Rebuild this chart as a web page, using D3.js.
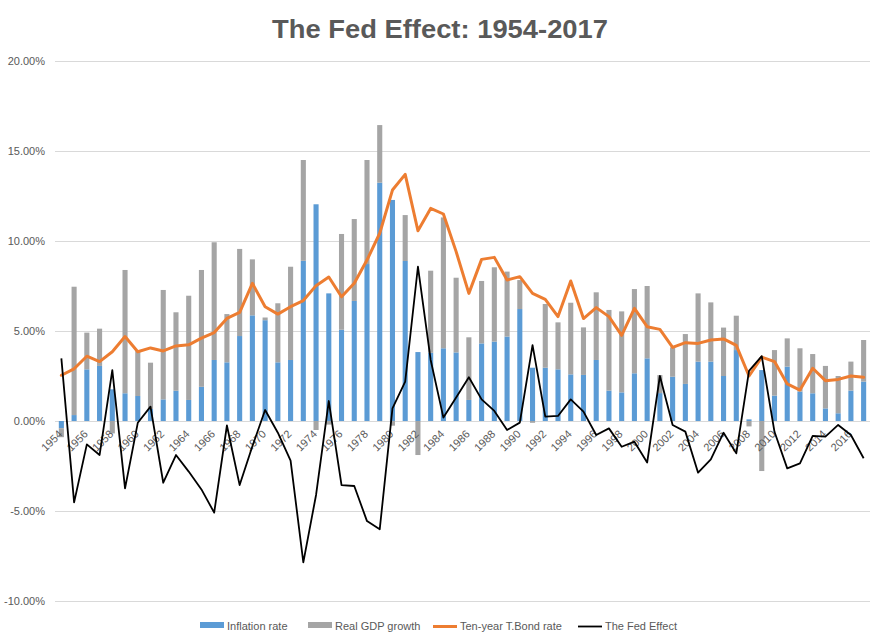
<!DOCTYPE html>
<html><head><meta charset="utf-8">
<script src="https://cdn.jsdelivr.net/npm/d3@7"></script>
<style>body{margin:0;background:#fff}svg{display:block}</style>
</head><body>
<svg id="c" width="879" height="639"></svg>
<script>
const years = d3.range(1954, 2018);
const inflation = [-0.4,0.33,2.87,3.06,1.76,1.54,1.39,0.67,1.2,1.68,1.17,1.9,3.39,3.26,4.72,5.87,5.6,3.26,3.39,8.9,12.04,7.09,5.07,6.67,8.72,13.24,12.28,8.89,3.83,3.79,4.04,3.81,1.17,4.31,4.41,4.69,6.22,2.96,2.96,2.87,2.59,2.56,3.39,1.69,1.59,2.65,3.48,1.55,2.46,2.06,3.3,3.3,2.5,3.94,0.09,2.83,1.41,3.02,1.63,1.54,0.7,0.43,1.69,2.19];
const gdpGrowth = [-0.5,7.13,2.04,2.07,-0.69,6.85,2.52,2.57,6.08,4.36,5.79,6.49,6.54,2.68,4.84,3.11,0.15,3.28,5.18,5.6,-0.5,-0.2,5.32,4.55,5.78,3.2,-0.26,2.55,-1.89,4.56,7.27,4.15,3.48,3.47,4.13,3.61,1.61,-0.1,3.54,2.61,3.98,2.64,3.76,4.48,4.5,4.68,4.02,1.0,1.63,2.77,3.79,3.29,2.69,1.91,-0.3,-2.78,2.53,1.57,2.41,2.18,2.36,2.07,1.61,2.31];
const tbond = [2.54,2.9,3.6,3.3,3.85,4.69,3.85,4.06,3.89,4.17,4.23,4.6,4.91,5.7,6.04,7.65,6.35,5.94,6.35,6.69,7.52,8.0,6.9,7.65,8.94,10.43,12.83,13.7,10.57,11.81,11.5,9.41,7.09,8.98,9.09,7.83,8.02,7.09,6.76,5.8,7.78,5.69,6.3,5.8,4.76,6.26,5.24,5.09,4.09,4.35,4.31,4.5,4.56,4.2,2.5,3.55,3.3,2.06,1.72,2.93,2.24,2.31,2.5,2.43];
const fedEffect = [3.48,-4.52,-1.3,-1.89,2.83,-3.74,-0.1,0.8,-3.43,-1.89,-2.81,-3.8,-5.09,-0.25,-3.56,-1.4,0.61,-0.65,-2.2,-7.85,-4.11,1.11,-3.56,-3.61,-5.56,-6.02,0.7,2.19,8.57,3.39,0.19,1.3,2.43,1.2,0.56,-0.5,-0.09,4.22,0.24,0.28,1.2,0.52,-0.78,-0.41,-1.43,-1.15,-2.31,2.5,-0.22,-0.59,-2.87,-2.13,-0.65,-1.8,2.78,3.6,-0.6,-2.63,-2.35,-0.83,-0.87,-0.22,-0.78,-2.07];
const yTicks = [-10,-5,0,5,10,15,20];
const seriesNames = ["Inflation rate","Real GDP growth","Ten-year T.Bond rate","The Fed Effect"];

const svg = d3.select("#c");
const W = 879, H = 639;
const m = {left:55, right:9, top:61, bottom:38};
const x = d3.scaleBand().domain(years).range([m.left, W - m.right]).paddingInner(0.6).paddingOuter(0.3);
const y = d3.scaleLinear().domain([-10, 20]).range([601, 61]);
const txt = "#595959";
const font = "'Liberation Sans', Arial, sans-serif";

// title
svg.append("text").attr("x", 440).attr("y", 38).attr("text-anchor","middle")
  .attr("font-family", font).attr("font-weight","bold").attr("font-size", 26)
  .attr("fill", txt).attr("textLength", 336).attr("lengthAdjust","spacingAndGlyphs")
  .text("The Fed Effect: 1954-2017");

// gridlines + y axis
const yAxis = d3.axisLeft(y).tickValues(yTicks).tickSize(-(W - m.right - m.left))
  .tickFormat(d => d.toFixed(2) + "%");
const gy = svg.append("g").attr("transform", `translate(${m.left},0)`).call(yAxis);
gy.select(".domain").remove();
gy.selectAll(".tick line").attr("stroke", "#d9d9d9").attr("stroke-width", 1);
gy.selectAll(".tick text").attr("x", -10).attr("fill", txt).attr("font-family", font).attr("font-size", 11);

// stacked bars
const rows = years.map((yr, i) => ({year: yr, inf: inflation[i], gdp: gdpGrowth[i]}));
const stack = d3.stack().keys(["inf","gdp"]).offset(d3.stackOffsetDiverging)(rows);
const colors = {inf:"#5b9bd5", gdp:"#a5a5a5"};
svg.append("g").selectAll("g").data(stack).join("g")
  .attr("fill", s => colors[s.key])
  .selectAll("rect").data(s => s).join("rect")
  .attr("x", d => x(d.data.year))
  .attr("width", x.bandwidth())
  .attr("y", d => y(Math.max(d[0], d[1])))
  .attr("height", d => Math.abs(y(d[0]) - y(d[1])));

// x axis labels
const xLab = years.filter((d, i) => i % 2 === 0);
svg.append("g").selectAll("text").data(xLab).join("text")
  .attr("transform", d => `translate(${x(d) + x.bandwidth()/2 - 1},${y(0) + 11}) rotate(-45)`)
  .attr("text-anchor","end").attr("dy","0.35em")
  .attr("font-family", font).attr("font-size", 11).attr("fill", txt)
  .text(d => d);

// lines
const cx = i => x(years[i]) + x.bandwidth()/2;
const line = d3.line().x((d, i) => cx(i)).y(d => y(d));
svg.append("path").datum(tbond).attr("d", line).attr("fill","none")
  .attr("stroke","#ed7d31").attr("stroke-width", 3).attr("stroke-linejoin","round").attr("stroke-linecap","round");
svg.append("path").datum(fedEffect).attr("d", line).attr("fill","none")
  .attr("stroke","#000").attr("stroke-width", 1.8).attr("stroke-linejoin","round");

// legend
const lg = svg.append("g").attr("font-family", font).attr("font-size", 11).attr("fill", txt);
const items = [
  {name: seriesNames[0], type:"rect", color:"#5b9bd5", x:200},
  {name: seriesNames[1], type:"rect", color:"#a5a5a5", x:308},
  {name: seriesNames[2], type:"line", color:"#ed7d31", x:433},
  {name: seriesNames[3], type:"line", color:"#000", x:578}
];
items.forEach(it => {
  if (it.type === "rect") {
    lg.append("rect").attr("x", it.x).attr("y", 622).attr("width", 24).attr("height", 6).attr("fill", it.color);
  } else {
    lg.append("line").attr("x1", it.x).attr("x2", it.x + 24).attr("y1", 626.5).attr("y2", 626.5)
      .attr("stroke", it.color).attr("stroke-width", it.color === "#000" ? 1.8 : 3);
  }
  lg.append("text").attr("x", it.x + 27).attr("y", 626).attr("dy","0.35em").text(it.name);
});
</script>
</body></html>
